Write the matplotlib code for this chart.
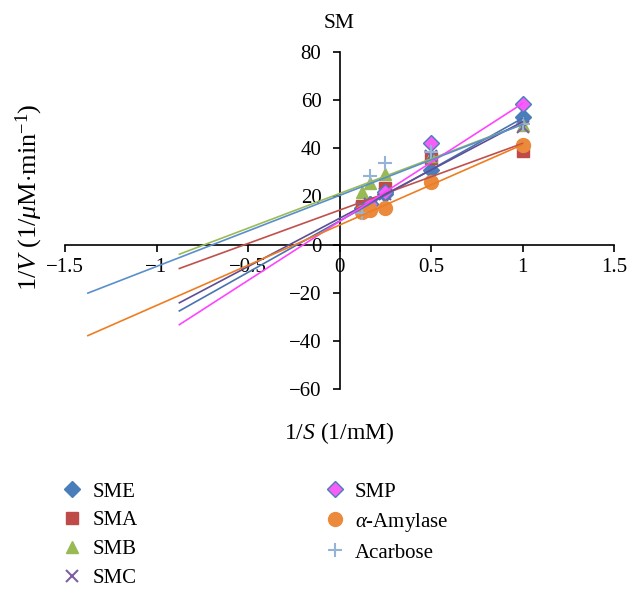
import numpy as np
import matplotlib
matplotlib.use("Agg")
import matplotlib.pyplot as plt

plt.rcParams['font.family'] = ['Liberation Serif', 'DejaVu Serif']
plt.rcParams['mathtext.fontset'] = 'custom'
plt.rcParams['mathtext.rm'] = 'Liberation Serif'
plt.rcParams['mathtext.it'] = 'Liberation Serif:italic'

# 1/S values (1/mM)
inv_s = [0.125, 0.167, 0.25, 0.5, 1.0]

series = ['SME', 'SMA', 'SMB', 'SMC', 'SMP', r'$\alpha$-Amylase', 'Acarbose']

# 1/V values
sme = [15, 17, 21, 31, 53]
sma = [16, 17, 23.5, 36, 39]
smb = [22, 25.5, 29.5, 37, 49.5]
smc = [15, 17, 21, 37, 49]
smp = [14, 17, 22, 42, 58.5]
amylase = [13.5, 14.5, 15, 26, 41.5]
acarbose = [13, 28.5, 34, 38.5, 50]
values = [sme, sma, smb, smc, smp, amylase, acarbose]

# linear trendlines as drawn (slope, intercept) and backward forecast
slopes = [42.7, 27.7, 28.8, 40.1, 49.0, 33.4, 29.5]
intercepts = [9.8, 14.3, 21.2, 10.9, 9.6, 8.1, 20.4]
forecast_back = [1, 1, 1, 1, 1, 1.5, 1.5]

markers = ['D', 's', '^', 'x', 'D', 'o', '+']
msizes = [8, 8, 9, 8, 8, 10, 10]
face = ['#4A7EBB', '#BE4B48', '#98B954', '#7D60A0', '#F75EF7', '#EB8A3C', '#95B3D7']
edge = ['#4A7EBB', '#BE4B48', '#98B954', '#7D60A0', '#4A7EBB', '#EB8A3C', '#95B3D7']
line_cols = ['#4A72B0', '#C0504D', '#9BBB59', '#5E4E96', '#FF44FF', '#EE7D22', '#5A8FCB']

fig = plt.figure(figsize=(6.4, 5.96), dpi=100)
ax = fig.add_axes([65 / 640, 1 - 389 / 596, 549 / 640, 337 / 596])

handles = []
for i, name in enumerate(series):
    h, = ax.plot(inv_s, values[i], linestyle='none', marker=markers[i],
                 ms=msizes[i], mfc=face[i], mec=edge[i],
                 mew=1.5 if markers[i] in ('x', '+') else 1.0,
                 label=name, zorder=3)
    handles.append(h)

for i in range(len(series)):
    xs = np.array([min(inv_s) - forecast_back[i], max(inv_s)])
    ax.plot(xs, slopes[i] * xs + intercepts[i], color=line_cols[i],
            lw=1.2, zorder=4)

ax.set_xlim(-1.5, 1.5)
ax.set_ylim(-60, 80)
ax.set_xticks(np.arange(-1.5, 1.51, 0.5))
ax.set_xticklabels(['\u22121.5', '\u22121', '\u22120.5', '0', '0.5', '1', '1.5'])
ax.set_yticks(np.arange(-60, 81, 20))
ax.set_yticklabels(['\u221260', '\u221240', '\u221220', '0', '20', '40', '60', '80'])

for s in ['top', 'right']:
    ax.spines[s].set_visible(False)
ax.spines['left'].set_position(('data', 0))
ax.spines['bottom'].set_position(('data', 0))
for s in ['left', 'bottom']:
    ax.spines[s].set_linewidth(1.2)
ax.tick_params(axis='both', direction='out', length=5, width=1.2,
               labelsize=15)
ax.tick_params(axis='y', pad=8)
ax.tick_params(axis='x', pad=5)
ax.patch.set_visible(False)

ax.set_title('SM', fontsize=15.5, pad=17)
ax.text(0.5, -0.13, r'1/$S$ (1/mM)', transform=ax.transAxes,
        ha='center', va='center', fontsize=17)
fig.text(29.5 / 640, 1 - 197 / 596, r'1/$V$ (1/$\mu$M$\cdot$min$^{-1}$)',
         rotation=90, ha='center', va='center', fontsize=19)

fig.legend(handles=handles, loc='upper left',
           bbox_to_anchor=(62 / 640, 1 - 482 / 596), ncol=2, frameon=False,
           fontsize=15, handlelength=1.0, handletextpad=0.46,
           labelspacing=0.44, columnspacing=8.95, borderpad=0,
           borderaxespad=0)

fig.savefig('out.png', dpi=100)
